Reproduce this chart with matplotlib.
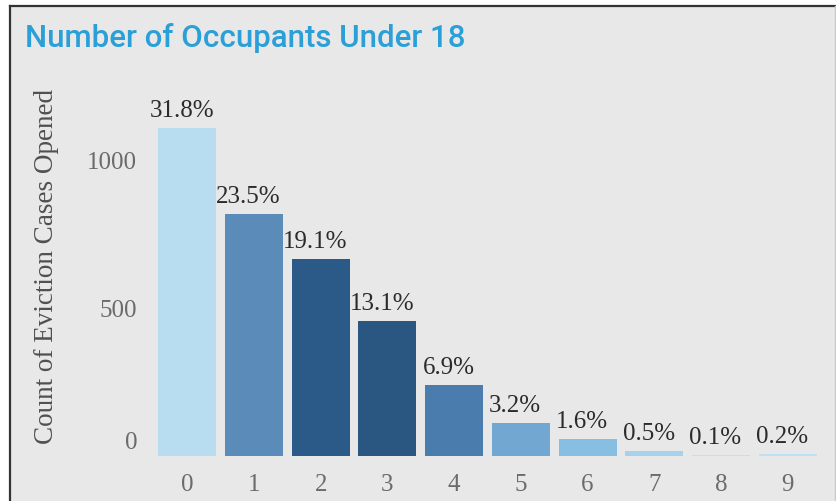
import matplotlib
matplotlib.use("Agg")
import matplotlib.pyplot as plt
from matplotlib.patches import Rectangle
from matplotlib.lines import Line2D
import matplotlib.transforms as mtransforms

categories = ["0", "1", "2", "3", "4", "5", "6", "7", "8", "9"]
counts = [1107, 818, 665, 456, 240, 111, 56, 17, 4, 7]
pct_labels = ["31.8%", "23.5%", "19.1%", "13.1%", "6.9%", "3.2%", "1.6%", "0.5%", "0.1%", "0.2%"]
bar_colors = ["#b8dcf0", "#5b8bb9", "#2c5a88", "#2a5682", "#4b7cae",
              "#72a7d1", "#88bee2", "#a6d2ee", "#bfe0f3", "#bfe0f3"]
y_ticks = [0, 500, 1000]

W, H = 837, 502
fig = plt.figure(figsize=(W / 100, H / 100), dpi=100, facecolor="white")

# panel background and border
bg = "#e8e8e8"
fig.patches.append(Rectangle((10 / W, 0), (835 - 10) / W, (H - 7) / H,
                             transform=fig.transFigure, facecolor=bg,
                             edgecolor="none", zorder=-5))
fig.lines.append(Line2D([10 / W, 835 / W], [(H - 7) / H, (H - 7) / H],
                        transform=fig.transFigure, color="#333333", lw=1.6, zorder=-4))
fig.lines.append(Line2D([10 / W, 10 / W], [0, (H - 7) / H],
                        transform=fig.transFigure, color="#333333", lw=1.6, zorder=-4))
fig.lines.append(Line2D([835 / W, 835 / W], [0, (H - 7) / H],
                        transform=fig.transFigure, color="#c8c8c8", lw=1.0, zorder=-4))

left, right = 154, 821
bottom_px, top_px = 457, 101.4
ax = fig.add_axes([left / W, (H - bottom_px) / H, (right - left) / W, (bottom_px - top_px) / H])
ax.set_facecolor("none")
ax.set_zorder(2)

x = list(range(len(categories)))
bars = ax.bar(x, counts, width=0.87, color=bar_colors, zorder=2)
ax.set_xlim(-0.5, len(categories) - 0.5)
ax.set_ylim(0, 1200)

for spine in ax.spines.values():
    spine.set_visible(False)

serif = "Liberation Serif"
fs = 18
ax.set_yticks(y_ticks)
ax.set_yticklabels([str(v) for v in y_ticks], fontsize=fs, color="#6b6b6b", family=serif)
ax.set_xticks(x)
ax.set_xticklabels(categories, fontsize=fs, color="#6b6b6b", family=serif)
ax.tick_params(axis="y", length=0, pad=12)
ax.tick_params(axis="x", length=0, pad=12)

# shift the "0" label up like the reference
lbl0 = ax.get_yticklabels()[0]
lbl0.set_transform(lbl0.get_transform() + mtransforms.ScaledTranslation(0, 16 / 100, fig.dpi_scale_trans))

for xi, c, t in zip(x, counts, pct_labels):
    ax.annotate(t, (xi, c), xytext=(-4, 5), textcoords="offset points",
                ha="center", va="bottom", fontsize=fs, color="#2b2b2b", family=serif)

fig.text(47 / W, (H - 266) / H, "Count of Eviction Cases Opened", rotation=90,
         ha="center", va="center", fontsize=19.5, color="#505050", family=serif)

fig.text(25 / W, (H - 47) / H, "Number of Occupants Under 18", ha="left", va="baseline",
         fontsize=22.5, color="#2a9fd8", family="Roboto", fontweight="medium")

fig.savefig("out.png", dpi=100, facecolor=fig.get_facecolor())
